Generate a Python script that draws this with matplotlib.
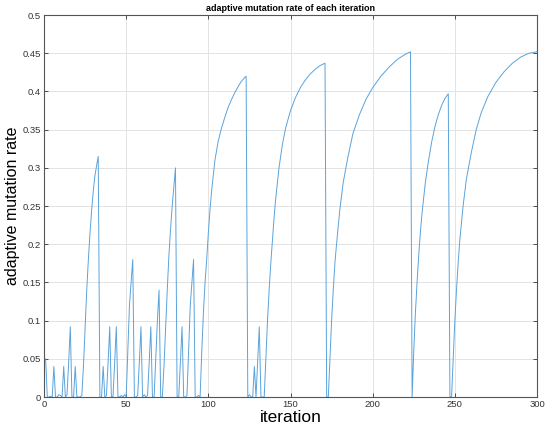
import matplotlib
matplotlib.use("Agg")
import matplotlib.pyplot as plt

iteration = [1, 2, 3, 4, 5, 6, 7, 8, 9, 10, 11, 12, 13, 14, 15, 16, 17, 18, 19, 20, 21, 22, 23,
             24, 25, 26, 27, 28, 29, 30, 31, 32, 33,
             34, 35, 36, 37, 38, 39, 40, 41, 42, 43, 44, 45, 46, 47, 48, 49, 50,
             51, 52, 53, 54, 55, 56, 57, 58, 59, 60, 61, 62, 63, 64, 65, 66, 67, 68, 69, 70,
             71, 72, 73, 74, 75, 76, 77, 78, 79, 80,
             81, 82, 83, 84, 85, 86, 87, 88, 89, 90, 91, 92, 93, 94, 95,
             96, 97, 98, 99, 100, 101, 102, 103, 104, 106, 108, 110, 112, 114, 116, 118, 120, 122, 123,
             124, 125, 126, 127, 128, 129, 130, 131, 132, 133, 134,
             135, 136, 137, 138, 139, 140, 141, 142, 143, 145, 147, 150, 153, 156, 159, 162, 165, 168, 171,
             172, 173,
             174, 175, 176, 177, 178, 180, 182, 185, 188, 192, 196, 200, 205, 210, 215, 220, 223,
             224,
             225, 226, 227, 228, 229, 230, 232, 234, 236, 238, 240, 242, 244, 246,
             247, 248,
             249, 250, 251, 252, 253, 255, 257, 260, 263, 266, 270, 275, 280, 285, 290, 295, 300]

rate = [0.05, 0.0, 0.0, 0.001, 0.0, 0.04, 0.0, 0.0, 0.003, 0.002, 0.0, 0.04, 0.0, 0.003, 0.045, 0.092, 0.0, 0.0, 0.04, 0.0, 0.0, 0.0, 0.002,
        0.04, 0.09, 0.14, 0.18, 0.215, 0.245, 0.27, 0.29, 0.303, 0.315,
        0.0, 0.0, 0.04, 0.0, 0.002, 0.045, 0.092, 0.0, 0.001, 0.045, 0.092, 0.0, 0.0, 0.002, 0.0, 0.003, 0.0,
        0.06, 0.12, 0.15, 0.18, 0.0, 0.0, 0.002, 0.045, 0.092, 0.0, 0.003, 0.0, 0.002, 0.045, 0.092, 0.0, 0.0, 0.05, 0.1, 0.14,
        0.0, 0.0, 0.04, 0.09, 0.14, 0.185, 0.22, 0.25, 0.275, 0.3,
        0.0, 0.0, 0.045, 0.092, 0.0, 0.0, 0.002, 0.06, 0.12, 0.15, 0.18, 0.0, 0.0, 0.002, 0.0,
        0.06, 0.11, 0.15, 0.18, 0.215, 0.245, 0.27, 0.29, 0.31, 0.335, 0.352, 0.366, 0.379, 0.389, 0.398, 0.406, 0.413, 0.418, 0.42,
        0.0, 0.003, 0.0, 0.0, 0.04, 0.0, 0.045, 0.092, 0.0, 0.0, 0.0,
        0.05, 0.1, 0.14, 0.175, 0.205, 0.235, 0.26, 0.28, 0.3, 0.33, 0.352, 0.375, 0.392, 0.405, 0.415, 0.423, 0.429, 0.434, 0.437,
        0.0, 0.0,
        0.05, 0.1, 0.14, 0.175, 0.2, 0.245, 0.28, 0.315, 0.345, 0.37, 0.39, 0.405, 0.42, 0.432, 0.442, 0.449, 0.452,
        0.0,
        0.06, 0.11, 0.15, 0.185, 0.215, 0.24, 0.28, 0.31, 0.335, 0.355, 0.37, 0.382, 0.391, 0.397,
        0.0, 0.0,
        0.05, 0.1, 0.14, 0.175, 0.205, 0.25, 0.285, 0.32, 0.35, 0.372, 0.393, 0.412, 0.426, 0.437, 0.445, 0.45, 0.452]

xticks = [0, 50, 100, 150, 200, 250, 300]
yticks = [0, 0.05, 0.1, 0.15, 0.2, 0.25, 0.3, 0.35, 0.4, 0.45, 0.5]
ytick_labels = ["0", "0.05", "0.1", "0.15", "0.2", "0.25", "0.3", "0.35", "0.4", "0.45", "0.5"]

plt.rcParams['font.family'] = ['Liberation Sans', 'DejaVu Sans']

fig = plt.figure(figsize=(5.5, 4.32), dpi=100)
ax = fig.add_axes([0.08, 0.081, 0.8964, 0.884])
ax.plot(iteration, rate, color='#5aa3dc', lw=0.7)
ax.set_xlim(0, 300)
ax.set_ylim(0, 0.5)
ax.set_xticks(xticks)
ax.set_xticklabels([str(t) for t in xticks])
ax.set_yticks(yticks)
ax.set_yticklabels(ytick_labels)
ax.grid(True, color='#e3e3e3', lw=0.7)
ax.set_axisbelow(True)
for s in ax.spines.values():
    s.set_color('#555555')
    s.set_linewidth(0.8)
ax.tick_params(axis='both', labelsize=6.8, colors='#333333', direction='in', length=3,
               top=True, right=True, width=0.6, pad=2)
ax.set_title('adaptive mutation rate of each iteration', fontsize=6.5, fontweight='bold', pad=3)
ax.set_xlabel('iteration', fontsize=12.5, labelpad=1)
ax.set_ylabel('adaptive mutation rate', fontsize=11.5, labelpad=2)
fig.savefig('out.png', dpi=100)
